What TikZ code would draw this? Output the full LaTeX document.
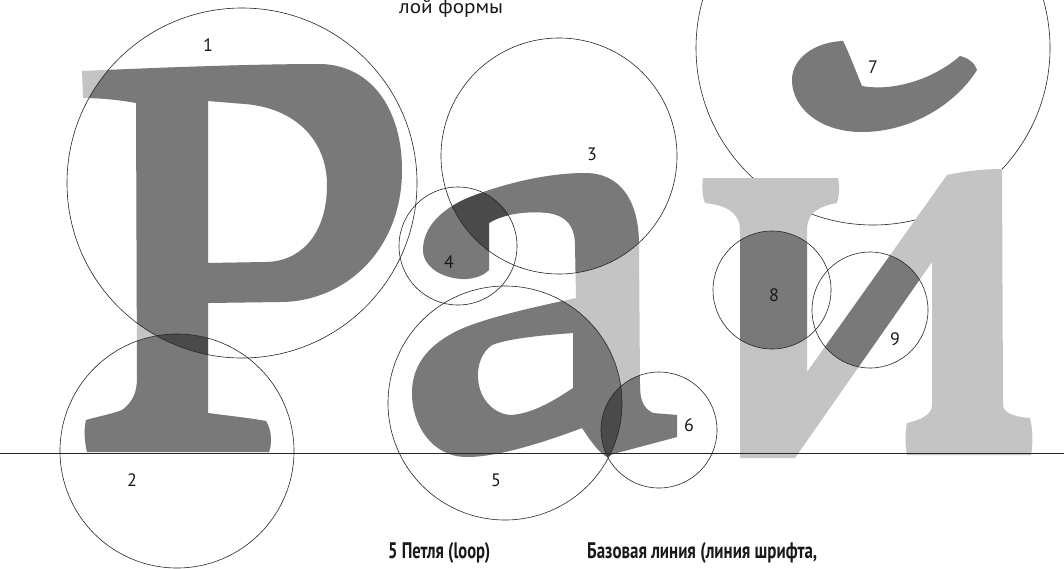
\documentclass[tikz,border=0pt]{standalone}
\usepackage{fontspec}
\setmainfont{PT Sans}
\usepackage{graphicx}
\definecolor{lg}{RGB}{196,196,196}
\newcommand\glyphPe{(82,71) .. controls (150,68) and (250,64) .. (320,64) .. controls (372,65) and (402,110) .. (402,170) .. controls (402,250) and (345,302) .. (280,302) -- (208,303) -- (208,413) .. controls (230,416) and (250,418) .. (266,421) .. controls (272,430) and (272,445) .. (269,452) -- (87,452) .. controls (84,440) and (84,428) .. (86,420) .. controls (100,416) and (112,414) .. (122,410) .. controls (133,402) and (137,392) .. (137,378) -- (136,103) .. controls (120,100) and (100,98) .. (83,98) -- cycle
(208,101) -- (245,104) .. controls (295,108) and (327,140) .. (327,185) .. controls (327,235) and (300,262) .. (265,262) -- (208,263) -- cycle}
\newcommand\glyphA{(489,223) .. controls (505,213) and (530,211) .. (548,213) .. controls (568,216) and (575,228) .. (575,245) -- (576,298) .. controls (545,305) and (480,318) .. (453,333) .. controls (425,348) and (412,368) .. (412,393) .. controls (412,425) and (432,457) .. (467,457) .. controls (500,457) and (550,440) .. (582,428) .. controls (590,440) and (598,452) .. (607,457) -- (613,454) -- (677,437) -- (677,415) -- (653,413) .. controls (643,408) and (640,400) .. (640,385) -- (639,245) .. controls (639,200) and (620,173) .. (585,173) .. controls (545,173) and (500,185) .. (470,197) .. controls (445,207) and (423,225) .. (423,250) .. controls (423,268) and (445,280) .. (467,279) .. controls (478,278) and (485,274) .. (489,270) -- cycle
(573,333) .. controls (545,335) and (510,338) .. (492,345) .. controls (482,352) and (477,365) .. (478,378) .. controls (479,400) and (495,415) .. (512,415) .. controls (535,413) and (558,398) .. (573,388) -- cycle}
\newcommand\glyphI{(703,178) -- (838,178) .. controls (840,188) and (839,196) .. (837,203) .. controls (820,206) and (808,212) .. (807,228) -- (807,372) -- (947,175) .. controls (965,171) and (985,169) .. (1002,169) -- (1003,405) .. controls (1003,413) and (1015,417) .. (1030,418) .. controls (1033,430) and (1033,445) .. (1031,455) -- (907,455) .. controls (905,445) and (905,432) .. (907,423) .. controls (920,420) and (932,415) .. (932,405) -- (932,262) -- (795,458) -- (740,458) -- (740,230) .. controls (740,212) and (725,205) .. (705,203) .. controls (702,195) and (702,186) .. (703,178) -- cycle}
\newcommand\glyphBreve{(843,41) .. controls (850,55) and (856,72) .. (862,86) .. controls (895,92) and (935,78) .. (960,56) .. controls (968,58) and (975,63) .. (977,70) .. controls (955,105) and (910,132) .. (862,132) .. controls (820,132) and (792,108) .. (792,80) .. controls (792,58) and (815,42) .. (843,41) -- cycle}
\begin{document}
\begin{tikzpicture}[x=1pt,y=-1pt,
  circ/.style={draw=black!85,line width=0.6pt},
  num/.style={font=\fontsize{18}{18}\selectfont,inner sep=0pt,text=black!90},
  darken/.style={fill=black,fill opacity=0.38,even odd rule},
  glyphfill/.style={fill=lg,even odd rule},
  caption/.style={font=\fontsize{22.5}{22.5}\selectfont\bfseries,inner sep=0pt,anchor=base west,text=black!90}]
\path[fill=white] (0,0) rectangle (1064,568);
\useasboundingbox (0,0) rectangle (1064,568);
\coordinate (c1) at (242,183);
\coordinate (c2) at (177,451);
\coordinate (c3) at (559,156);
\coordinate (c4) at (458,246);
\coordinate (c5) at (505,403);
\coordinate (c6) at (659,430);
\coordinate (c7) at (873,48);
\coordinate (c8) at (772,290);
\coordinate (c9) at (870,310);
\coordinate (bl1) at (0,453);
\coordinate (bl2) at (1064,453);
% circle 7 lies behind the letters
\draw[circ] (c7) circle[radius=177];
% letters, base tone
\fill[glyphfill] \glyphPe;
\fill[glyphfill] \glyphA;
\fill[glyphfill] \glyphI;
\fill[glyphfill] \glyphBreve;
% darkened parts inside circles
\begin{scope}\clip (c1) circle[radius=175]; \fill[darken] \glyphPe; \end{scope}
\begin{scope}\clip (c2) circle[radius=117]; \fill[darken] \glyphPe; \end{scope}
\begin{scope}\clip (c3) circle[radius=118]; \fill[darken] \glyphA; \end{scope}
\begin{scope}\clip (c4) circle[radius=59]; \fill[darken] \glyphA; \end{scope}
\begin{scope}\clip (c5) circle[radius=117]; \fill[darken] \glyphA; \end{scope}
\begin{scope}\clip (c6) circle[radius=58]; \fill[darken] \glyphA; \end{scope}
\begin{scope}\clip (c7) circle[radius=177]; \fill[darken] \glyphBreve; \end{scope}
\begin{scope}\clip (c8) circle[radius=59]; \fill[darken] \glyphI; \end{scope}
\begin{scope}\clip (c9) circle[radius=58]; \fill[darken] \glyphI; \end{scope}
% baseline
\draw[black!85,line width=0.9pt] (bl1) -- (bl2);
% circles
\draw[circ] (c1) circle[radius=175];
\draw[circ] (c2) circle[radius=117];
\draw[circ] (c3) circle[radius=118];
\draw[circ] (c4) circle[radius=59];
\draw[circ] (c5) circle[radius=117];
\draw[circ] (c6) circle[radius=58];
\draw[circ] (c8) circle[radius=59];
\draw[circ] (c9) circle[radius=58];
% numbers
\node[num] (n1) at (208,45) {1};
\node[num] (n2) at (132,480) {2};
\node[num] (n3) at (592,154) {3};
\node[num] (n4) at (449,262) {4};
\node[num] (n5) at (496,480) {5};
\node[num] (n6) at (689,425) {6};
\node[num] (n7) at (873,67) {7};
\node[num] (n8) at (774,295) {8};
\node[num] (n9) at (895,339) {9};
% texts
\node[font=\fontsize{19.5}{19.5}\selectfont,inner sep=0pt,anchor=base west,text=black!90] (t0) at (399,13.5) {\resizebox{104pt}{\height}{лой формы}};
\node[caption] (t1) at (388,558) {\resizebox{102pt}{\height}{5 Петля (loop)}};
\node[caption] (t2) at (587,558) {\resizebox{230pt}{\height}{Базовая линия (линия шрифта,}};
\end{tikzpicture}
\end{document}
